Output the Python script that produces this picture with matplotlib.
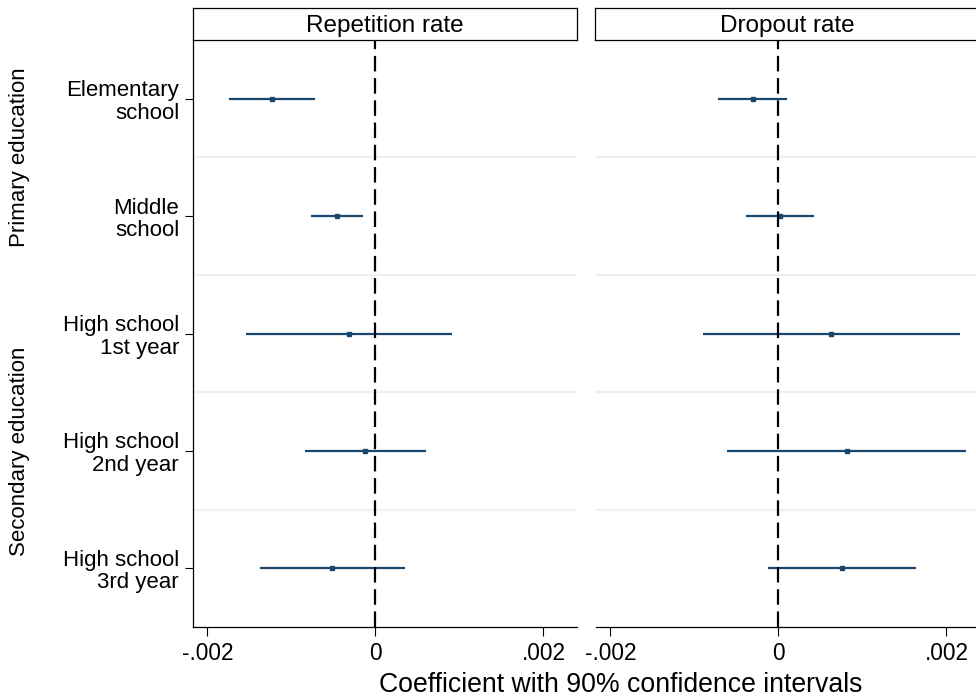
import numpy as np
import matplotlib
matplotlib.use("Agg")
import matplotlib.pyplot as plt

plt.rcParams["font.family"] = ["Liberation Sans", "DejaVu Sans"]

categories = ["Elementary\nschool", "Middle\nschool", "High school\n1st year",
              "High school\n2nd year", "High school\n3rd year"]

# Repetition rate: coefficient and 90% CI
rep_coef = [-0.001226, -0.000456, -0.000313, -0.000119, -0.000512]
rep_lo = [-0.001738, -0.000762, -0.001544, -0.000837, -0.001373]
rep_hi = [-0.000714, -0.000146, 0.000917, 0.000603, 0.000349]

# Dropout rate: coefficient and 90% CI
drop_coef = [-0.000302, 0.000020, 0.000629, 0.000812, 0.000756]
drop_lo = [-0.000716, -0.000382, -0.000899, -0.000613, -0.000128]
drop_hi = [0.000107, 0.000422, 0.002165, 0.002237, 0.001640]

panel_titles = ["Repetition rate", "Dropout rate"]
xticks = [-0.002, 0, 0.002]
xticklabels = ["-.002", "0", ".002"]
groups = ["Primary education", "Secondary education"]
group_rows = [[1, 2], [3, 4, 5]]

navy = "#1a476f"
grid_col = "#e9f1f3"

fig = plt.figure(figsize=(9.76, 7.0), dpi=100)
W, H = 976, 700

def px_axes(x0, y0, x1, y1):
    return fig.add_axes([x0 / W, 1 - y1 / H, (x1 - x0) / W, (y1 - y0) / H])

ax_l = px_axes(193, 40, 577, 627)
ax_r = px_axes(596, 40, 980, 627)

pos = np.arange(1, len(categories) + 1)
series = [(rep_coef, rep_lo, rep_hi), (drop_coef, drop_lo, drop_hi)]

for ax, (coef, lo, hi) in zip([ax_l, ax_r], series):
    ax.set_xlim(-0.00217, 0.00240)
    ax.set_ylim(5.5, 0.5)
    for g in [1.5, 2.5, 3.5, 4.5]:
        ax.axhline(g, color=grid_col, lw=1.6, zorder=0)
    ax.hlines(pos, lo, hi, color=navy, lw=1.6, zorder=2)
    ax.plot(coef, pos, "s", color=navy, ms=3.4, zorder=3)
    ax.axvline(0, color="black", lw=1.6, dashes=(7, 3), zorder=4)
    ax.set_xticks(xticks)
    ax.set_xticklabels(xticklabels, fontsize=16.3)
    ax.tick_params(axis="x", length=6.5, width=0.8, pad=4)
    for s in ["top", "right"]:
        ax.spines[s].set_visible(False)
    ax.spines["bottom"].set_linewidth(0.9)
    ax.spines["left"].set_linewidth(0.9)

ax_l.set_yticks(pos)
ax_l.set_yticklabels(categories, fontsize=16, linespacing=1.1, ha="right")
ax_l.tick_params(axis="y", length=6, width=0.8, pad=4)

ax_r.spines["left"].set_visible(False)
ax_r.set_yticks([])

# panel header boxes
for (x0, x1), title in zip([(193, 577), (595, 980)], panel_titles):
    hx = px_axes(x0, 8, x1, 40)
    hx.set_xticks([]); hx.set_yticks([])
    for s in hx.spines.values():
        s.set_linewidth(0.9)
    hx.text(0.5, 0.45, title, ha="center", va="center", fontsize=17.5,
            transform=hx.transAxes)

# group labels on the left
for name, rows in zip(groups, group_rows):
    yc = np.mean(rows)
    y_fig = ax_l.transData.transform((0, yc))[1]
    fig.text(20 / W, y_fig / H, name, rotation=90, ha="center", va="center",
             fontsize=16)

fig.text(621 / W, 1 - 685 / H, "Coefficient with 90% confidence intervals",
         ha="center", va="center", fontsize=19.2)

fig.savefig("out.png", dpi=100)
